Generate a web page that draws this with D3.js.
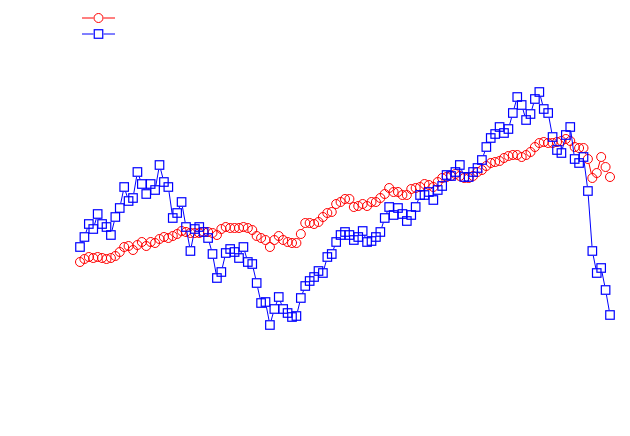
<!DOCTYPE html>
<html>
<head>
<meta charset="utf-8">
<script src="https://cdn.jsdelivr.net/npm/d3@7/dist/d3.min.js"></script>
<style>
html,body{margin:0;padding:0;background:#fff;}
svg{display:block;}
</style>
</head>
<body>
<svg id="chart" width="630" height="436"></svg>
<script>
// Data (index-based x; values in arbitrary units)
const seriesNames = ["", ""];
const redValues = [78,81,83,82,83,82,81,82,84,88,93,94,90,95,98,94,98,97,101,103,102,104,106,109,108,107,107,107,108,108,107,105,111,113,112,112,112,113,112,110,104,102,100,93,100,104,100,98,97,97,106,117,117,116,118,123,127,128,136,138,141,141,133,134,136,134,138,138,142,146,152,148,148,145,145,151,152,153,156,155,153,158,162,163,164,166,164,162,162,164,168,170,174,177,178,179,182,184,185,185,183,185,188,193,197,198,197,197,198,199,201,199,193,192,192,181,162,167,183,173,163];
const blueValues = [93,103,116,111,126,116,113,105,123,132,153,139,142,168,156,146,156,150,175,158,153,122,127,138,113,89,111,113,108,102,86,62,68,87,91,88,82,93,78,76,57,37,38,15,31,43,31,27,23,24,42,54,59,63,69,67,83,86,98,105,108,105,100,103,109,98,99,103,108,122,133,125,132,126,119,125,133,145,145,148,140,150,154,165,164,168,175,163,163,168,172,180,193,202,206,213,207,211,227,243,235,220,226,241,248,231,227,203,190,187,205,213,181,177,183,149,89,67,72,50,25];

const svg = d3.select("#chart");
const N = redValues.length;
const x = d3.scaleLinear().domain([0, N - 1]).range([80, 610]);
const y = d3.scaleLinear().domain([0, 250]).range([340, 90]);

const R = 4.5;      // circle radius
const S = 8.5;      // square side
const GAP = 5;      // line gap around points

function gappedSegments(pts, gap) {
  const segs = [];
  for (let i = 0; i < pts.length - 1; i++) {
    const [x0, y0] = pts[i], [x1, y1] = pts[i + 1];
    const dx = x1 - x0, dy = y1 - y0;
    const L = Math.hypot(dx, dy);
    if (L <= 2 * gap) continue;
    const ux = dx / L, uy = dy / L;
    segs.push([x0 + ux * gap, y0 + uy * gap, x1 - ux * gap, y1 - uy * gap]);
  }
  return segs;
}

function drawSeries(values, color, shape) {
  const pts = values.map((v, i) => [x(i), y(v)]);
  const g = svg.append("g");
  g.selectAll("line").data(gappedSegments(pts, GAP)).join("line")
    .attr("x1", d => d[0]).attr("y1", d => d[1])
    .attr("x2", d => d[2]).attr("y2", d => d[3])
    .attr("stroke", color).attr("stroke-width", 1);
  if (shape === "circle") {
    g.selectAll("circle").data(pts).join("circle")
      .attr("cx", d => d[0]).attr("cy", d => d[1]).attr("r", R)
      .attr("fill", "none").attr("stroke", color).attr("stroke-width", 1);
  } else {
    g.selectAll("rect").data(pts).join("rect")
      .attr("x", d => d[0] - S / 2).attr("y", d => d[1] - S / 2)
      .attr("width", S).attr("height", S)
      .attr("fill", "none").attr("stroke", color).attr("stroke-width", 1.2);
  }
}

drawSeries(redValues, "#ff0000", "circle");
drawSeries(blueValues, "#0000ff", "square");

// Legend (empty titles)
const legend = [
  {name: seriesNames[0], color: "#ff0000", shape: "circle", y: 18},
  {name: seriesNames[1], color: "#0000ff", shape: "square", y: 34}
];
legend.forEach(l => {
  const g = svg.append("g");
  const cx = 98.5;
  g.append("line").attr("x1", 82).attr("x2", cx - GAP).attr("y1", l.y).attr("y2", l.y)
    .attr("stroke", l.color).attr("stroke-width", 1);
  g.append("line").attr("x1", cx + GAP).attr("x2", 115).attr("y1", l.y).attr("y2", l.y)
    .attr("stroke", l.color).attr("stroke-width", 1);
  if (l.shape === "circle") {
    g.append("circle").attr("cx", cx).attr("cy", l.y).attr("r", R)
      .attr("fill", "none").attr("stroke", l.color);
  } else {
    g.append("rect").attr("x", cx - S / 2).attr("y", l.y - S / 2)
      .attr("width", S).attr("height", S)
      .attr("fill", "none").attr("stroke", l.color).attr("stroke-width", 1.2);
  }
  g.append("text").attr("x", 120).attr("y", l.y + 4).attr("font-family", "DejaVu Sans")
    .attr("font-size", 12).text(l.name);
});
</script>
</body>
</html>
